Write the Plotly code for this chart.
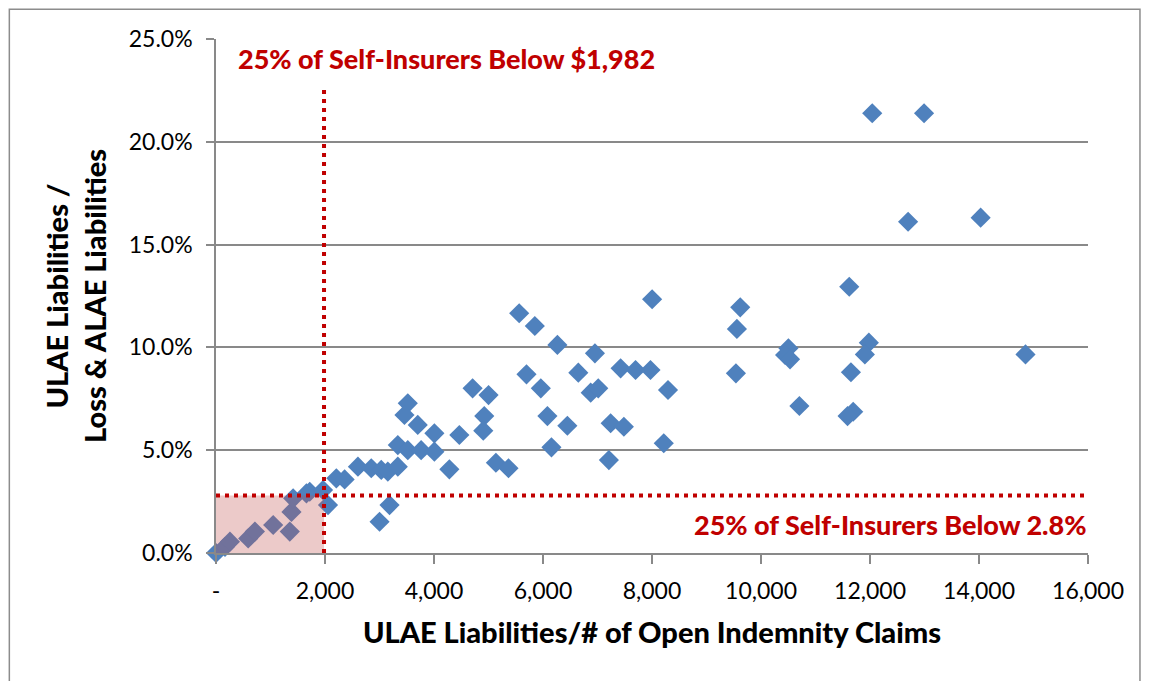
import plotly.graph_objects as go

# Data: ULAE liabilities per open indemnity claim vs ULAE / (Loss & ALAE) ratio
x_vals = [0, 165, 256, 591, 714, 1049, 1354, 1385, 1415, 1659, 1720, 1964, 2055,
          2208, 2360, 2604, 2849, 3032, 3153, 3336, 3336, 3519, 3519, 3458, 3702,
          3764, 4007, 4007, 4282, 3184, 3001, 4465, 4708, 5001, 4922, 4904, 5136,
          5367, 5563, 5850, 5697, 5960, 6081, 6155, 6264, 6447, 6648, 6953, 6875,
          7014, 7241, 7484, 7209, 7424, 7698, 7972, 8002, 8294, 8216, 9619, 9558,
          9540, 10503, 10442, 10533, 10704, 11619, 11979, 11906, 11650, 11692,
          11588, 14853, 12041, 12992, 12699, 14030]
y_vals = [0.0, 0.30, 0.55, 0.71, 1.04, 1.36, 1.04, 2.00, 2.66, 2.90, 2.98, 3.06, 2.33,
          3.63, 3.58, 4.20, 4.12, 4.04, 3.96, 4.20, 5.25, 5.00, 7.28, 6.71, 6.23,
          5.00, 5.82, 4.93, 4.07, 2.33, 1.52, 5.74, 8.01, 7.68, 6.66, 5.95, 4.39,
          4.12, 11.66, 11.04, 8.69, 8.01, 6.66, 5.14, 10.12, 6.19, 8.77, 9.71, 7.80,
          8.01, 6.31, 6.14, 4.52, 8.98, 8.90, 8.90, 12.34, 7.93, 5.34, 11.95, 10.90,
          8.74, 9.96, 9.63, 9.42, 7.15, 12.95, 10.23, 9.66, 8.79, 6.87,
          6.66, 9.66, 21.39, 21.39, 16.11, 16.31]
y_vals = [v / 100 for v in y_vals]

x_threshold = 1982
y_threshold = 0.028
x_max = 16000

x_tickvals = [0, 2000, 4000, 6000, 8000, 10000, 12000, 14000, 16000]
x_ticktext = ["-", "2,000", "4,000", "6,000", "8,000", "10,000", "12,000", "14,000", "16,000"]
y_tickvals = [0, 0.05, 0.10, 0.15, 0.20, 0.25]
y_ticktext = ["0.0%", "5.0%", "10.0%", "15.0%", "20.0%", "25.0%"]

FONT = "Lato"
RED = "#C00000"
GRID = "#898989"

fig = go.Figure()
fig.add_trace(go.Scatter(
    x=x_vals, y=y_vals, mode="markers",
    marker=dict(symbol="diamond", size=15.5, color="#4F81BD", line=dict(width=0)),
    cliponaxis=False, showlegend=False, hoverinfo="x+y"))

# shaded quadrant
fig.add_shape(type="rect", xref="x", yref="y", x0=0, x1=x_threshold, y0=0, y1=y_threshold,
              fillcolor="rgba(192,80,77,0.3)", line=dict(width=0), layer="above")
# threshold lines
fig.add_shape(type="line", xref="x", yref="y", x0=x_threshold, x1=x_threshold, y0=0, y1=0.226,
              line=dict(color=RED, width=4, dash="4px,5px"), layer="above")
fig.add_shape(type="line", xref="x", yref="y", x0=0, x1=x_max, y0=y_threshold, y1=y_threshold,
              line=dict(color=RED, width=4, dash="4px,5px"), layer="above")

# outer chart border
fig.add_shape(type="rect", xref="paper", yref="paper", x0=-0.2370, x1=1.0596, y0=-0.27, y1=1.058,
              line=dict(color="#8c8c8c", width=1.5), fillcolor="rgba(0,0,0,0)")

fig.add_annotation(x=370, y=0.2407, xref="x", yref="y", xanchor="left", yanchor="middle",
                   text="25% of Self-Insurers Below $1,982", showarrow=False,
                   font=dict(family=FONT, size=27, color=RED, weight=900))
fig.add_annotation(x=x_max, y=0.0141, xref="x", yref="y", xanchor="right", yanchor="middle",
                   text="25% of Self-Insurers Below 2.8%", showarrow=False,
                   font=dict(family=FONT, size=27, color=RED, weight=900))

fig.update_xaxes(range=[0, x_max], tickvals=x_tickvals, ticktext=x_ticktext,
                 showgrid=False, zeroline=False, showline=True, linecolor=GRID, linewidth=1.5,
                 ticks="outside", ticklen=9, tickcolor=GRID, tickwidth=1.5, ticklabelstandoff=8,
                 tickfont=dict(family=FONT, size=23, color="black"),
                 title=dict(text="ULAE Liabilities/# of Open Indemnity Claims",
                            font=dict(family=FONT, size=29, color="black", weight=900), standoff=19))
fig.update_yaxes(range=[0, 0.25], tickvals=y_tickvals, ticktext=y_ticktext,
                 showgrid=True, gridcolor=GRID, gridwidth=1.5, zeroline=False,
                 showline=True, linecolor=GRID, linewidth=1.5,
                 ticks="outside", ticklen=8, tickcolor=GRID, tickwidth=1.5, ticklabelstandoff=9,
                 tickfont=dict(family=FONT, size=23, color="black"),
                 title=dict(text="ULAE Liabilities /<br>Loss & ALAE Liabilities",
                            font=dict(family=FONT, size=29, color="black", weight=900), standoff=14))

fig.update_layout(width=1141, height=673, autosize=False,
                  margin=dict(l=208, r=61, t=31, b=128, autoexpand=False),
                  plot_bgcolor="white", paper_bgcolor="white")

fig.write_html("out.html")
